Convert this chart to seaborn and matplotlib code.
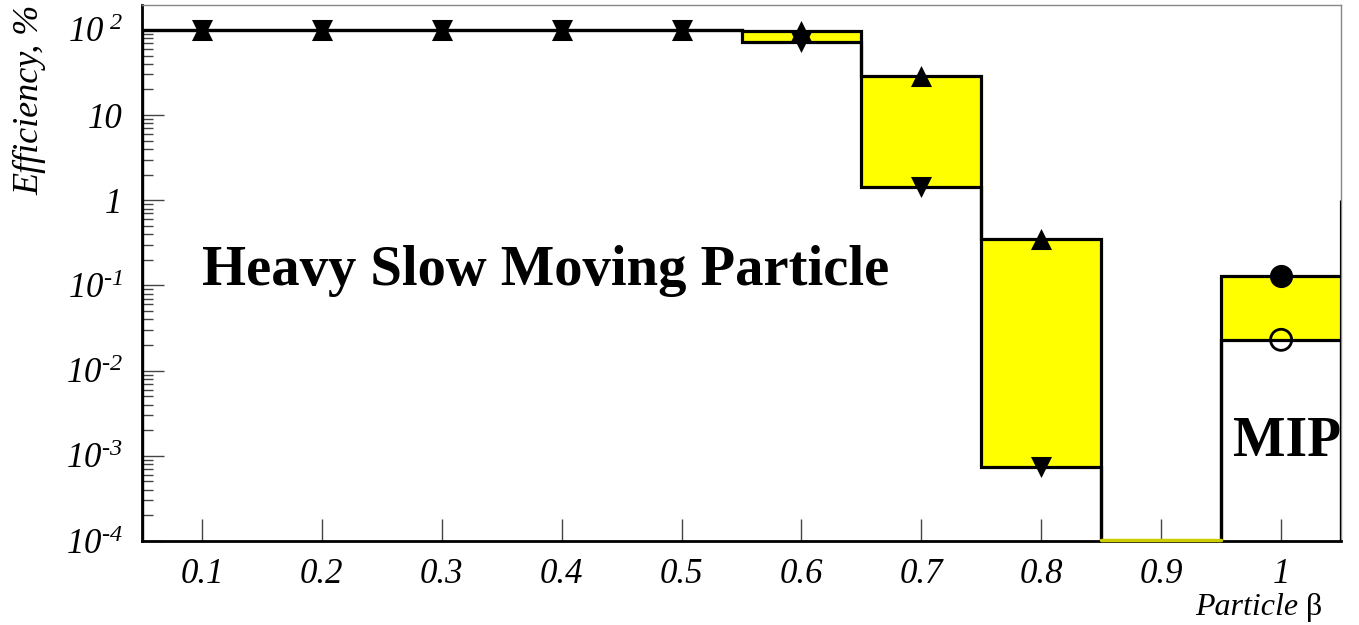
import numpy as np
import pandas as pd
import seaborn as sns
import matplotlib.pyplot as plt
from matplotlib.ticker import FixedLocator, NullFormatter

# particle beta bins and efficiency band (%)
beta = [0.1, 0.2, 0.3, 0.4, 0.5, 0.6, 0.7, 0.8, 0.9, 1.0]
eff_upper = [100, 100, 100, 100, 100, 97, 29, 0.35, 1e-4, 0.13]
eff_lower = [100, 100, 100, 100, 100, 73, 1.45, 7.3e-4, 1e-4, 0.023]
overflow_upper = 1.0
x_tick_labels = ['0.1', '0.2', '0.3', '0.4', '0.5', '0.6', '0.7', '0.8', '0.9', '1']
y_ticks = [1e-4, 1e-3, 1e-2, 1e-1, 1, 10, 100]
y_tick_labels = [r'10$^{\text{-4}}$', r'10$^{\text{-3}}$', r'10$^{\text{-2}}$', r'10$^{\text{-1}}$',
                 '1', '10', r'10$^{\text{ 2}}$']

sns.set_style("white")
plt.rcParams['font.family'] = ['Liberation Serif', 'DejaVu Serif']
plt.rcParams['mathtext.fontset'] = 'custom'
plt.rcParams['mathtext.rm'] = 'Liberation Serif:italic'
plt.rcParams['mathtext.it'] = 'Liberation Serif:italic'
for k in ['text.color', 'axes.labelcolor', 'xtick.color', 'ytick.color']:
    plt.rcParams[k] = 'black'

df = pd.DataFrame({'beta': beta, 'upper': eff_upper, 'lower': eff_lower})
edges = np.append(df['beta'].values - 0.05, df['beta'].values[-1] + 0.05)
floor = 1e-4

fig = plt.figure(figsize=(13.59, 6.25), dpi=100)
ax = fig.add_axes([0.1045, 0.1344, 0.8823, 0.8576])
ax.set_yscale('log')
ax.set_xlim(0.05, 1.05)
ax.set_ylim(floor, 196)

yellow = '#ffff00'
ax.stairs(df['upper'], edges, baseline=df['lower'].values, fill=True, color=yellow, zorder=1)
# empty bin drawn at the floor
empty = df[df['upper'] <= floor]
for b in empty['beta']:
    ax.plot([b - 0.05, b + 0.05], [1.04e-4, 1.04e-4], color='#cccc00', lw=2.5, zorder=5, clip_on=False)

ax.stairs(df['upper'], edges, color='black', lw=2.3, zorder=3)
ax.stairs(df['lower'], edges, color='black', lw=2.3, zorder=3)
ax.vlines(edges[-1], df['upper'].values[-1], overflow_upper, color='black', lw=2.3, zorder=3)

filled = df[df['upper'] > floor]
tri = filled[filled['beta'] < 0.95]
mip = filled[filled['beta'] >= 0.95]
sns.scatterplot(data=tri, x='beta', y='upper', marker='^', s=230, color='black', linewidth=0, ax=ax, zorder=4)
sns.scatterplot(data=tri, x='beta', y='lower', marker='v', s=230, color='black', linewidth=0, ax=ax, zorder=4)
sns.scatterplot(data=mip, x='beta', y='upper', marker='o', s=230, color='black', edgecolor='black', linewidth=1.5, ax=ax, zorder=4)
sns.scatterplot(data=mip, x='beta', y='lower', marker='o', s=230, facecolor='none', edgecolor='black', linewidth=2, ax=ax, zorder=4)

ax.set_xlabel('')
ax.set_ylabel('')

# ticks, ROOT style (inside)
ax.xaxis.set_major_locator(FixedLocator(beta))
ax.set_xticklabels(x_tick_labels, fontstyle='italic', fontsize=25)
ax.yaxis.set_major_locator(FixedLocator(y_ticks))
ax.set_yticklabels(y_tick_labels, fontstyle='italic', fontsize=25)
minor = [m * 10.0 ** e for e in range(-4, 3) for m in range(2, 10)]
ax.yaxis.set_minor_locator(FixedLocator(minor))
ax.yaxis.set_minor_formatter(NullFormatter())
ax.tick_params(axis='both', which='major', direction='in', length=16, width=1, color='#444444')
ax.tick_params(axis='y', which='minor', direction='in', length=8, width=1, color='#444444', left=True)
ax.tick_params(axis='x', which='major', pad=12, bottom=True)
ax.tick_params(axis='y', which='major', pad=14, left=True)

for side in ['left', 'bottom']:
    ax.spines[side].set_color('black')
    ax.spines[side].set_linewidth(2)
for side in ['top', 'right']:
    ax.spines[side].set_color('#888888')
    ax.spines[side].set_linewidth(1)

ax.text(0.1, 0.1, 'Heavy Slow Moving Particle', fontsize=40.8, fontweight='bold', ha='left', va='baseline', zorder=6)
ax.text(0.96, 1e-3, 'MIP', fontsize=40, fontweight='bold', ha='left', va='baseline', zorder=6)

fig.text(0.022, 0.992, 'Efficiency, %', rotation=90, fontstyle='italic', fontsize=26, ha='center', va='top')
fig.text(0.961, 0.028, 'Particle ', fontstyle='italic', fontsize=23, ha='right', va='center')
fig.text(0.961, 0.028, 'β', fontsize=23, ha='left', va='center')

fig.savefig('out.png', dpi=100)
